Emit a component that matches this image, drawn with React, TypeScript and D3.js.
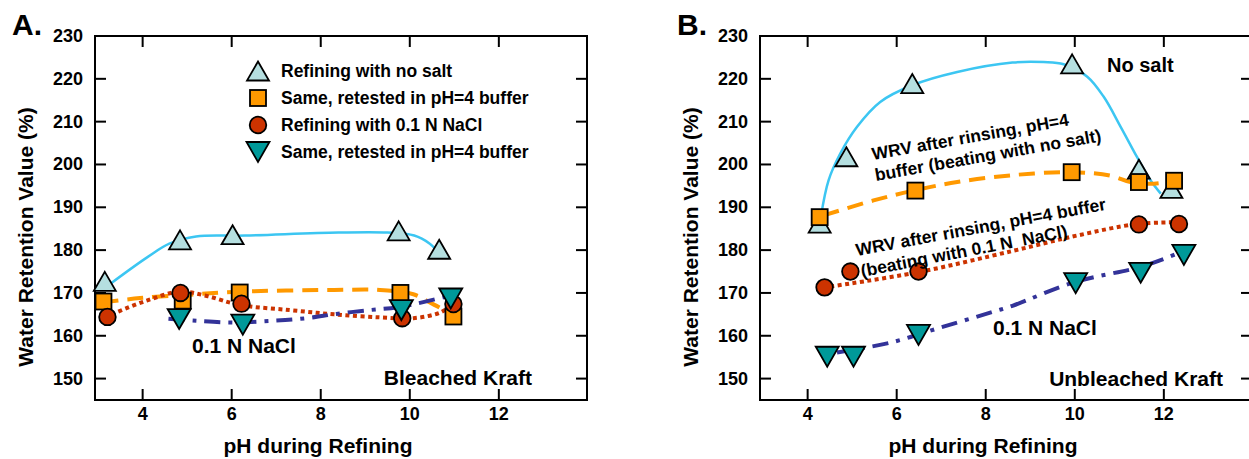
import React from 'react';
import * as d3 from 'd3';

// ---- Panel A: bleached kraft ----
const aNoSaltX = [3.15, 4.84, 6.02, 9.75, 10.66];
const aNoSaltY = [172.7, 182.4, 183.6, 184.5, 180.2];
const aNoSaltBufX = [3.12, 4.9, 6.18, 9.79, 10.98];
const aNoSaltBufY = [168.0, 168.2, 170.1, 170.0, 164.5];
const aNaclX = [3.21, 4.85, 6.22, 9.83, 10.98];
const aNaclY = [164.4, 170.0, 167.5, 164.1, 167.4];
const aNaclBufX = [4.82, 6.25, 9.81, 10.92];
const aNaclBufY = [163.9, 162.6, 166.0, 168.7];

// smoothed curves as drawn in the figure
const aNoSaltFit: [number, number][] = [[3.27, 172.1], [4.1, 178.3], [4.6, 181.5], [5.2, 183.2], [6.3, 183.4], [8.4, 184.1], [9.5, 184.1], [10.1, 183.4], [10.45, 181.5], [10.6, 180]];
const aNoSaltBufFit: [number, number][] = [[3.1, 167.8], [3.94, 168.8], [5.06, 169.6], [6.18, 170.3], [8.3, 170.7], [9.33, 170.7], [10.08, 169.7], [10.45, 167.8], [10.8, 165.8]];
const aNaclFit: [number, number][] = [[3.3, 165.0], [4.09, 168.2], [4.84, 170.3], [5.44, 169.3], [6.18, 167.2], [7.3, 166.0], [8.3, 165.0], [9.33, 164.3], [10.08, 164.1], [10.68, 165.4], [10.95, 167.2]];
const aNaclBufFit: [number, number][] = [[4.58, 164.0], [5.21, 163.5], [6.03, 163.1], [6.93, 163.5], [7.68, 164.1], [8.35, 165.1], [9.1, 166.0], [9.7, 166.6], [10.15, 167.5], [10.68, 168.8], [10.86, 169.3]];

// ---- Panel B: unbleached kraft ----
const bNoSaltX = [4.27, 4.87, 6.35, 9.94, 11.44, 12.17];
const bNoSaltY = [186.3, 201.8, 218.9, 223.5, 198.9, 194.4];
const bNoSaltBufX = [4.27, 6.42, 9.93, 11.44, 12.23];
const bNoSaltBufY = [187.7, 193.9, 198.2, 195.9, 196.2];
const bNaclX = [4.38, 4.96, 6.49, 11.44, 12.34];
const bNaclY = [171.3, 175.0, 175.0, 186.0, 186.1];
const bNaclBufX = [4.44, 5.03, 6.49, 10.02, 11.48, 12.45];
const bNaclBufY = [155.1, 155.1, 160.2, 172.3, 174.7, 178.9];

const bNoSaltFit: [number, number][] = [[4.3, 188], [4.47, 196.3], [4.73, 202.5], [5.11, 208.8], [5.63, 214.6], [6.35, 218.5], [7.36, 221.6], [8.6, 223.8], [9.3, 223.9], [9.75, 223.4], [10.28, 220.5], [10.65, 215.8], [11.03, 208.8], [11.4, 201.7], [11.7, 196.3], [11.93, 193.2]];
const bNoSaltBufFit: [number, number][] = [[4.36, 188.1], [5.48, 191.6], [6.38, 193.9], [7.36, 195.9], [8.6, 197.5], [9.9, 198.2], [10.8, 197.4], [11.25, 195.9], [11.7, 195.5], [12.08, 195.9]];
const bNaclFit: [number, number][] = [[4.51, 171.5], [6.46, 174.8], [8.6, 179.8], [10.05, 183.4], [11.4, 186.1], [12.3, 186.5]];
const bNaclBufFit: [number, number][] = [[4.66, 156.1], [5.86, 158.4], [6.98, 161.9], [8.1, 165.4], [8.6, 167.0], [9.98, 172.5], [11.48, 176.1], [12.38, 179.5]];

const legendLabels = [
  'Refining with no salt',
  'Same, retested in pH=4 buffer',
  'Refining with 0.1 N NaCl',
  'Same, retested in pH=4 buffer',
];
const xTicks = [4, 6, 8, 10, 12];
const yTicks = [150, 160, 170, 180, 190, 200, 210, 220, 230];

const FONT = '"Liberation Sans", Arial, Helvetica, sans-serif';
const C_TRI = '#b5dfe0';
const C_SQ = '#ff9900';
const C_CIR = '#cc3300';
const C_DTRI = '#009999';
const C_BLUE = '#3cc6f2';
const C_NAVY = '#333399';

type Kind = 'tri' | 'sq' | 'cir' | 'dtri';

const Marker = ({ kind, cx, cy }: { kind: Kind; cx: number; cy: number }) => {
  const common = { stroke: '#000', strokeWidth: 1.8, strokeLinejoin: 'miter' as const };
  if (kind === 'tri')
    return <path d={`M${cx},${cy - 9.5}L${cx + 11},${cy + 9.5}L${cx - 11},${cy + 9.5}Z`} fill={C_TRI} {...common} />;
  if (kind === 'dtri')
    return <path d={`M${cx - 11.5},${cy - 10}L${cx + 11.5},${cy - 10}L${cx},${cy + 10}Z`} fill={C_DTRI} {...common} />;
  if (kind === 'sq')
    return <rect x={cx - 8} y={cy - 8} width={16} height={16} fill={C_SQ} {...common} />;
  return <circle cx={cx} cy={cy} r={8.3} fill={C_CIR} {...common} />;
};

interface SeriesDef {
  xs: number[];
  ys: number[];
  fit: [number, number][];
}

interface PanelProps {
  dx: number;
  letter: string;
  noSalt: SeriesDef;
  noSaltBuf: SeriesDef;
  nacl: SeriesDef;
  naclBuf: SeriesDef;
  children?: React.ReactNode;
}

const Panel = ({ dx, letter, noSalt, noSaltBuf, nacl, naclBuf, children }: PanelProps) => {
  const left = 95 + dx;
  const right = 587 + dx;
  const top = 36;
  const bottom = 400;
  const x = d3.scaleLinear().domain([2.93, 13.98]).range([left, right]);
  const y = d3.scaleLinear().domain([145, 230]).range([bottom, top]);
  const line = d3
    .line<[number, number]>()
    .x((d) => x(d[0]))
    .y((d) => y(d[1]))
    .curve(d3.curveCatmullRom.alpha(0.5));

  const marks = (s: SeriesDef, kind: Kind) =>
    s.xs.map((v, i) => <Marker key={kind + i} kind={kind} cx={x(v)} cy={y(s.ys[i])} />);

  return (
    <g>
      <text x={12 + dx} y={35} fontSize={30} fontWeight="bold">{letter}</text>
      <rect x={left} y={top} width={right - left} height={bottom - top} fill="none" stroke="#000" strokeWidth={2} />
      {yTicks.filter((t) => t < 230).map((t) => (
        <g key={'y' + t}>
          <line x1={left} x2={left + 11} y1={y(t)} y2={y(t)} stroke="#000" strokeWidth={2} />
          <line x1={right - 11} x2={right} y1={y(t)} y2={y(t)} stroke="#000" strokeWidth={2} />
        </g>
      ))}
      {yTicks.map((t) => (
        <text key={'yl' + t} x={left - 12} y={y(t) + 6} fontSize={18} fontWeight="bold" textAnchor="end">{t}</text>
      ))}
      {xTicks.map((t) => (
        <g key={'x' + t}>
          <line x1={x(t)} x2={x(t)} y1={top} y2={top + 11} stroke="#000" strokeWidth={2} />
          <line x1={x(t)} x2={x(t)} y1={bottom - 11} y2={bottom} stroke="#000" strokeWidth={2} />
          <text x={x(t)} y={420} fontSize={18} fontWeight="bold" textAnchor="middle">{t}</text>
        </g>
      ))}
      <text x={318 + dx} y={453} fontSize={21} fontWeight="bold" textAnchor="middle">pH during Refining</text>
      <text transform={`translate(${33 + dx},237) rotate(-90)`} fontSize={21} fontWeight="bold" textAnchor="middle">
        Water Retention Value (%)
      </text>

      <path d={line(noSalt.fit) || ''} fill="none" stroke={C_BLUE} strokeWidth={2.5} />
      <path d={line(noSaltBuf.fit) || ''} fill="none" stroke={C_SQ} strokeWidth={4} strokeDasharray="16 9" />
      <path d={line(nacl.fit) || ''} fill="none" stroke={C_CIR} strokeWidth={4} strokeDasharray="4 3.5" />
      <path d={line(naclBuf.fit) || ''} fill="none" stroke={C_NAVY} strokeWidth={4} strokeDasharray="16 8 4 8" />

      {marks(noSalt, 'tri')}
      {marks(noSaltBuf, 'sq')}
      {marks(nacl, 'cir')}
      {marks(naclBuf, 'dtri')}
      {children}
    </g>
  );
};

const legendKinds: Kind[] = ['tri', 'sq', 'cir', 'dtri'];

export default function App() {
  return (
    <svg
      width={1249}
      height={459}
      style={{ position: 'absolute', left: 0, top: 0, background: '#fff' }}
      fontFamily={FONT}
    >
      <rect width={1249} height={459} fill="#fff" />
      <Panel
        dx={0}
        letter="A."
        noSalt={{ xs: aNoSaltX, ys: aNoSaltY, fit: aNoSaltFit }}
        noSaltBuf={{ xs: aNoSaltBufX, ys: aNoSaltBufY, fit: aNoSaltBufFit }}
        nacl={{ xs: aNaclX, ys: aNaclY, fit: aNaclFit }}
        naclBuf={{ xs: aNaclBufX, ys: aNaclBufY, fit: aNaclBufFit }}
      >
        {legendLabels.map((l, i) => (
          <g key={'lg' + i}>
            <Marker kind={legendKinds[i]} cx={258} cy={71 + i * 27} />
            <text x={281} y={77 + i * 27} fontSize={17.5} fontWeight="bold">{l}</text>
          </g>
        ))}
        <text x={192} y={353} fontSize={21} fontWeight="bold">0.1 N NaCl</text>
        <text x={532} y={385} fontSize={21} fontWeight="bold" textAnchor="end">Bleached Kraft</text>
      </Panel>
      <Panel
        dx={665}
        letter="B."
        noSalt={{ xs: bNoSaltX, ys: bNoSaltY, fit: bNoSaltFit }}
        noSaltBuf={{ xs: bNoSaltBufX, ys: bNoSaltBufY, fit: bNoSaltBufFit }}
        nacl={{ xs: bNaclX, ys: bNaclY, fit: bNaclFit }}
        naclBuf={{ xs: bNaclBufX, ys: bNaclBufY, fit: bNaclBufFit }}
      >
        <text x={1107} y={72} fontSize={20} fontWeight="bold">No salt</text>
        <text transform="translate(873,160) rotate(-10)" fontSize={17.5} fontWeight="bold">WRV after rinsing, pH=4</text>
        <text transform="translate(876,181) rotate(-10)" fontSize={17.5} fontWeight="bold">buffer (beating with no salt)</text>
        <text transform="translate(857,256) rotate(-10.5)" fontSize={17.5} fontWeight="bold">WRV after rinsing, pH=4 buffer</text>
        <text transform="translate(862,277) rotate(-11)" fontSize={17.5} fontWeight="bold" style={{ whiteSpace: 'pre' }}>
          {'(beating with 0.1 N  NaCl)'}
        </text>
        <text x={993} y={335} fontSize={21} fontWeight="bold">0.1 N NaCl</text>
        <text x={1223} y={386} fontSize={21} fontWeight="bold" textAnchor="end">Unbleached Kraft</text>
      </Panel>
    </svg>
  );
}
